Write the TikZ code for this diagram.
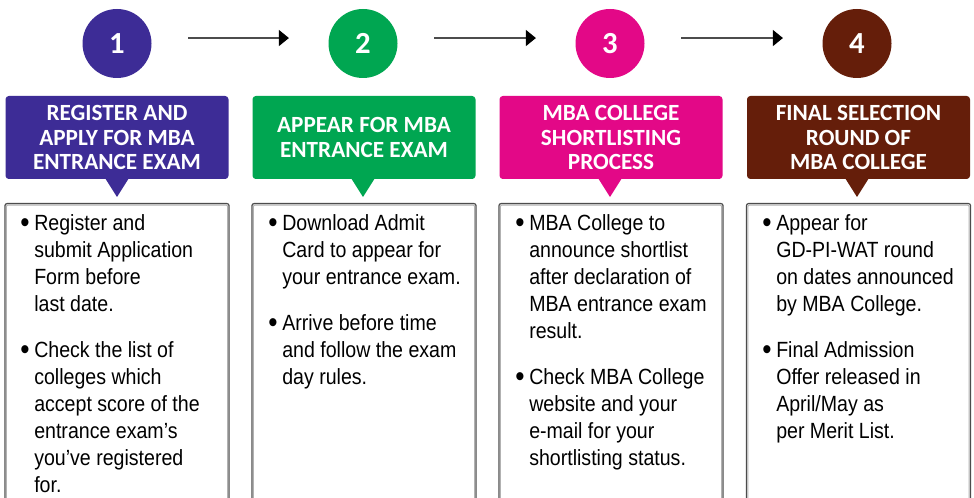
\documentclass[tikz,border=0pt]{standalone}
\usepackage{fontspec}
\usetikzlibrary{arrows.meta}
\newfontfamily\headfont{Carlito}
\newfontfamily\bodyfont{Liberation Sans}[FakeStretch=0.89]
\definecolor{cpurple}{RGB}{61,44,150}
\definecolor{cgreen}{RGB}{0,166,81}
\definecolor{cmagenta}{RGB}{227,8,135}
\definecolor{cbrown}{RGB}{101,30,10}
\newcommand\bitem{\par\hangindent=9.75pt\hangafter=1\noindent\makebox[9.75pt][l]{\kern-0.6pt\raisebox{-0.06em}{\scalebox{1.35}{•}}}}
\begin{document}
\begin{tikzpicture}[x=0.75pt,y=-0.75pt,
  numcirc/.style={circle, minimum size=51.75pt, inner sep=0pt, text=white, font=\headfont\bfseries\fontsize{23}{23}\selectfont},
  headbox/.style={rounded corners=2.5pt, minimum width=167.25pt, minimum height=62.25pt, inner sep=0pt, text=white, align=center, font=\headfont\bfseries\fontsize{17.4}{18.4}\selectfont},
  bodybox/.style={draw=black!70, line width=0.9pt, rounded corners=1.5pt, minimum width=168pt, minimum height=230pt, inner sep=0pt, anchor=north},
  innerline/.style={draw=black!30, line width=0.8pt, rounded corners=1pt},
  bodytext/.style={anchor=base west, inner sep=0pt, text=black, font=\bodyfont\fontsize{16.5}{20.25}\selectfont},
  flow/.style={draw=black!70, line width=1pt, -{Triangle[length=7.5pt,width=12pt,color=black]}, shorten <=27.5pt, shorten >=29.5pt}
]
\useasboundingbox (0,0) rectangle (974,498);
\fill[white] (0,0) rectangle (974,498);
\clip (0,0) rectangle (974,498);

% step circles
\node[numcirc, fill=cpurple] (n1) at (117,43.5) {1};
\node[numcirc, fill=cgreen] (n2) at (363,43.5) {2};
\node[numcirc, fill=cmagenta] (n3) at (610,43.5) {3};
\node[numcirc, fill=cbrown] (n4) at (857,43.5) {4};

% connectors
\draw[flow] ([yshift=4.1pt]n1.east) -- ([yshift=4.1pt]n2.west);
\draw[flow] ([yshift=4.1pt]n2.east) -- ([yshift=4.1pt]n3.west);
\draw[flow] ([yshift=4.1pt]n3.east) -- ([yshift=4.1pt]n4.west);

% header boxes
\node[headbox, fill=cpurple] (h1) at (117,137.5) {REGISTER AND\\APPLY FOR MBA\\ENTRANCE EXAM};
\node[headbox, fill=cgreen] (h2) at (364,137.5) {APPEAR FOR MBA\\ENTRANCE EXAM};
\node[headbox, fill=cmagenta] (h3) at (611,137.5) {MBA COLLEGE\\SHORTLISTING\\PROCESS};
\node[headbox, fill=cbrown] (h4) at (858.5,137.5) {FINAL SELECTION\\ROUND OF\\MBA COLLEGE};

% pointers
\fill[cpurple] (105,178) -- (129,178) -- (117,197) -- cycle;
\fill[cgreen] (351,178) -- (375,178) -- (363,197) -- cycle;
\fill[cmagenta] (598,178) -- (622,178) -- (610,197) -- cycle;
\fill[cbrown] (845,178) -- (869,178) -- (857,197) -- cycle;

% body boxes
\foreach \i/\cx in {1/117, 2/364, 3/611, 4/858.5}{
  \node[bodybox] (b\i) at (\cx,203) {};
  \draw[innerline] ([shift={(2,2)}]b\i.north west) rectangle ([shift={(-2,-2)}]b\i.south east);
}

% body texts
\node[bodytext] (t1) at (21,231) {\parbox[t]{200pt}{%
\bitem Register and\\submit Application\\Form before\\last date.\par\vspace{14.25pt}%
\bitem Check the list of\\colleges which\\accept score of the\\entrance exam’s\\you’ve registered\\for.}};
\node[bodytext] (t2) at (269,231) {\parbox[t]{200pt}{%
\bitem Download Admit\\Card to appear for\\your entrance exam.\par\vspace{14.25pt}%
\bitem Arrive before time\\and follow the exam\\day rules.}};
\node[bodytext] (t3) at (516,231) {\parbox[t]{200pt}{%
\bitem MBA College to\\announce shortlist\\after declaration of\\MBA entrance exam\\result.\par\vspace{14.25pt}%
\bitem Check MBA College\\website and your\\e-mail for your\\shortlisting status.}};
\node[bodytext] (t4) at (763,231) {\parbox[t]{200pt}{%
\bitem Appear for\\GD-PI-WAT round\\on dates announced\\by MBA College.\par\vspace{14.25pt}%
\bitem Final Admission\\Offer released in\\April/May as\\per Merit List.}};
\end{tikzpicture}
\end{document}
